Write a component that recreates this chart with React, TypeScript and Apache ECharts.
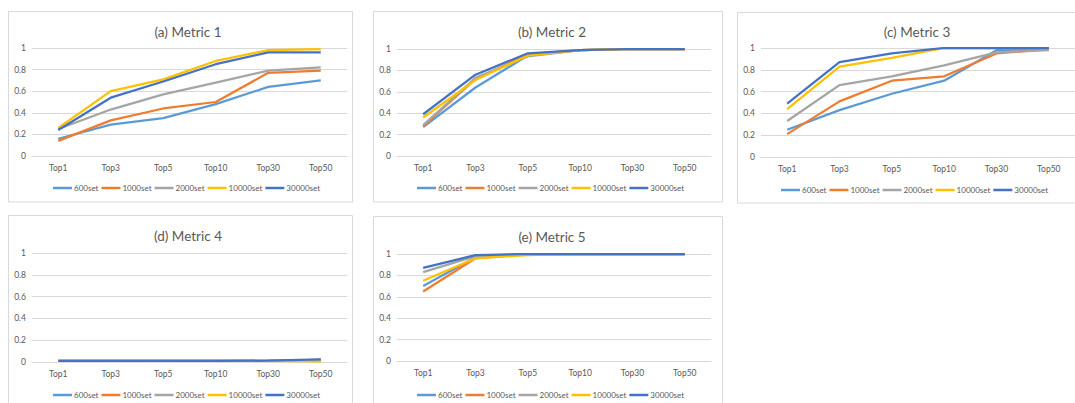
import React, { useEffect, useRef } from "react";
import * as echarts from "echarts";

const categories = ["Top1", "Top3", "Top5", "Top10", "Top30", "Top50"];
const seriesNames = ["600set", "1000set", "2000set", "10000set", "30000set"];
const colors = ["#5B9BD5", "#ED7D31", "#A5A5A5", "#FFC000", "#4472C4"];
const titles = ["(a) Metric 1", "(b) Metric 2", "(c) Metric 3", "(d) Metric 4", "(e) Metric 5"];
const yTicks = [0, 0.2, 0.4, 0.6, 0.8, 1];

const metric1 = [
  [0.16, 0.29, 0.35, 0.48, 0.64, 0.70],
  [0.14, 0.33, 0.44, 0.50, 0.77, 0.79],
  [0.25, 0.43, 0.57, 0.68, 0.79, 0.82],
  [0.26, 0.60, 0.71, 0.88, 0.98, 0.99],
  [0.24, 0.54, 0.69, 0.85, 0.96, 0.96],
];
const metric2 = [
  [0.27, 0.64, 0.94, 0.99, 1.0, 1.0],
  [0.28, 0.72, 0.95, 0.99, 1.0, 1.0],
  [0.29, 0.73, 0.93, 0.99, 1.0, 1.0],
  [0.36, 0.71, 0.94, 0.99, 1.0, 1.0],
  [0.39, 0.76, 0.96, 0.99, 1.0, 1.0],
];
const metric3 = [
  [0.25, 0.43, 0.58, 0.70, 0.98, 0.99],
  [0.21, 0.51, 0.70, 0.74, 0.95, 0.99],
  [0.33, 0.66, 0.74, 0.84, 0.96, 0.98],
  [0.44, 0.83, 0.91, 1.0, 1.0, 1.0],
  [0.49, 0.87, 0.95, 1.0, 1.0, 1.0],
];
const metric4 = [
  [0.01, 0.01, 0.01, 0.01, 0.01, 0.02],
  [0.01, 0.01, 0.01, 0.01, 0.01, 0.01],
  [0.01, 0.01, 0.01, 0.01, 0.01, 0.02],
  [0.01, 0.01, 0.01, 0.01, 0.01, 0.005],
  [0.01, 0.01, 0.01, 0.01, 0.012, 0.025],
];
const metric5 = [
  [0.70, 0.97, 1.0, 1.0, 1.0, 1.0],
  [0.65, 0.96, 1.0, 1.0, 1.0, 1.0],
  [0.83, 0.98, 1.0, 1.0, 1.0, 1.0],
  [0.75, 0.96, 0.99, 1.0, 1.0, 1.0],
  [0.87, 0.99, 1.0, 1.0, 1.0, 1.0],
];
const metrics = [metric1, metric2, metric3, metric4, metric5];

// layout per panel
const panels = [
  { box: [8.5, 11.5, 344, 190.5], grid: [32, 48, 315, 108], titleX: 183, titleY: 29, legendX: 185, legendY: 185 },
  { box: [373.5, 11.5, 349, 190.5], grid: [397, 49, 314, 107], titleX: 547, titleY: 29, legendX: 549, legendY: 185 },
  { box: [737.5, 12.5, 400, 190.5], grid: [761, 48, 314, 109], titleX: 912, titleY: 29, legendX: 913, legendY: 187 },
  { box: [8.5, 215.5, 344, 200], grid: [32, 253, 315, 109], titleX: 183, titleY: 233, legendX: 185, legendY: 392 },
  { box: [373.5, 216.5, 349, 200], grid: [397, 254, 314, 107], titleX: 547, titleY: 234, legendX: 549, legendY: 392 },
];

const FONT = "Lato, 'Open Sans', sans-serif";
const TEXT = "#595959";
const LEGEND_HALF = 137;

export default function App() {
  const ref = useRef<HTMLDivElement>(null);
  useEffect(() => {
    if (!ref.current) return;
    const chart = echarts.init(ref.current, undefined, { renderer: "svg" });
    const grids: any[] = [];
    const xAxes: any[] = [];
    const yAxes: any[] = [];
    const series: any[] = [];
    const legends: any[] = [];
    const graphics: any[] = [];
    const titleOpts: any[] = [];
    panels.forEach((p, i) => {
      const [gl, gt, gw, gh] = p.grid;
      grids.push({ left: gl, top: gt, width: gw, height: gh, containLabel: false });
      xAxes.push({
        type: "category",
        gridIndex: i,
        data: categories,
        boundaryGap: true,
        axisLine: { lineStyle: { color: "#D9D9D9", width: 1 } },
        axisTick: { show: false },
        axisLabel: { color: TEXT, fontSize: 8.5, fontFamily: FONT, margin: 7 },
      });
      yAxes.push({
        type: "value",
        gridIndex: i,
        min: yTicks[0],
        max: yTicks[yTicks.length - 1],
        interval: 0.2,
        axisLine: { show: false },
        axisTick: { show: false },
        splitLine: { lineStyle: { color: "#D9D9D9", width: 1 } },
        axisLabel: { color: TEXT, fontSize: 8.5, fontFamily: FONT, margin: 6 },
      });
      metrics[i].forEach((vals, s) => {
        series.push({
          type: "line",
          name: seriesNames[s],
          xAxisIndex: i,
          yAxisIndex: i,
          data: vals,
          symbol: "none",
          lineStyle: { color: colors[s], width: 2.25 },
          itemStyle: { color: colors[s] },
        });
      });
      legends.push({
        data: seriesNames,
        left: p.legendX - LEGEND_HALF,
        top: p.legendY - 6,
        orient: "horizontal",
        icon: "rect",
        itemWidth: 19,
        itemHeight: 2.5,
        itemGap: 3,
        textStyle: { color: TEXT, fontSize: 8, fontFamily: FONT, padding: [0, 0, 0, -3] },
      });
      titleOpts.push({
        text: titles[i],
        left: p.titleX,
        top: p.titleY - 9,
        textAlign: "center",
        textStyle: { color: TEXT, fontSize: 13.5, fontWeight: "normal", fontFamily: FONT },
      });
      const [bx, by, bw, bh] = p.box;
      graphics.push({
        type: "rect",
        shape: { x: bx, y: by, width: bw, height: bh },
        style: { fill: "none", stroke: "#D9D9D9", lineWidth: 1 },
        silent: true,
        z: -10,
      });
    });
    chart.setOption({
      animation: false,
      backgroundColor: "#ffffff",
      title: titleOpts,
      grid: grids,
      xAxis: xAxes,
      yAxis: yAxes,
      legend: legends,
      series,
      graphic: graphics,
    });
    return () => chart.dispose();
  }, []);
  return (
    <div
      ref={ref}
      style={{ position: "fixed", left: 0, top: 0, width: 1075, height: 403 }}
    />
  );
}
